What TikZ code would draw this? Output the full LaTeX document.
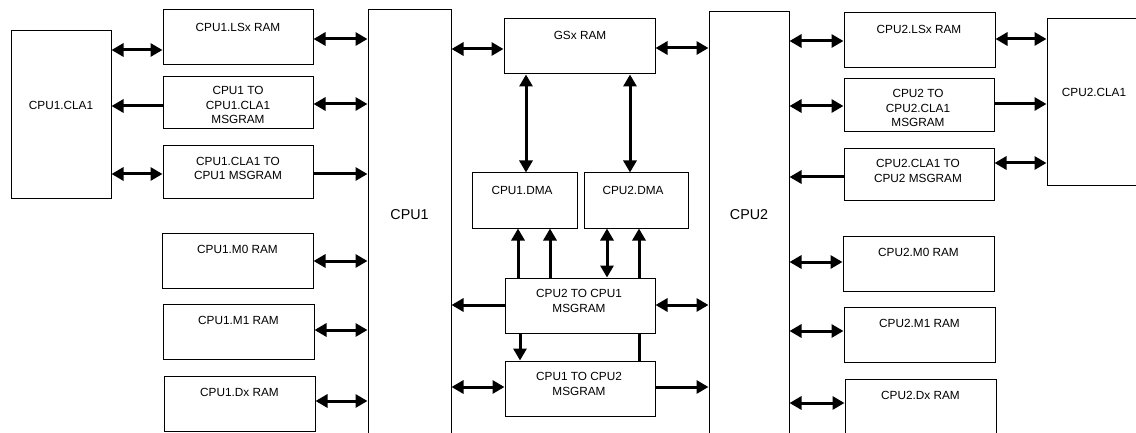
\documentclass[tikz,border=0pt]{standalone}
\usepackage{fontspec}
\setmainfont{Liberation Sans}
\usetikzlibrary{arrows.meta}
\tikzset{
  bx/.style={draw=black, line width=1pt, inner sep=0pt, fill=none},
  lbl/.style={inner sep=0pt, align=center, font=\fontsize{11.8}{14.2}\selectfont},
  big/.style={inner sep=0pt, font=\fontsize{14.3}{16}\selectfont},
  conn/.style={line width=3pt},
  tip/.style={-{Triangle[length=12pt,width=13pt]}},
  tips/.style={{Triangle[length=12pt,width=13pt]}-{Triangle[length=12pt,width=13pt]}},
}
\begin{document}
\begin{tikzpicture}[x=1pt,y=-1pt]
\useasboundingbox (0,0) rectangle (1136,433);
\clip (0,0) rectangle (1136,433);
\fill[white] (0,0) rectangle (1136,433);
% boxes
\node[bx, minimum width=100pt, minimum height=168pt] (cla1) at (61,115) {};
\node[bx, minimum width=150pt, minimum height=55pt] (lsx1) at (238,37.5) {};
\node[bx, minimum width=150pt, minimum height=52pt] (m1cla) at (238,103) {};
\node[bx, minimum width=150pt, minimum height=53pt] (cla1m) at (238,172.5) {};
\node[bx, minimum width=151pt, minimum height=55pt] (mzero1) at (237.5,260.5) {};
\node[bx, minimum width=151pt, minimum height=55pt] (mone1) at (238.5,331.5) {};
\node[bx, minimum width=151pt, minimum height=55pt] (dx1) at (239.5,403.5) {};
\node[bx, minimum width=83pt, minimum height=440pt] (cpu1) at (409.5,230) {};
\node[bx, minimum width=151pt, minimum height=55pt] (gsx) at (579.5,46.5) {};
\node[bx, minimum width=105pt, minimum height=55pt] (dma1) at (524.5,200.5) {};
\node[bx, minimum width=104pt, minimum height=55pt] (dma2) at (636,200.5) {};
\node[bx, minimum width=150pt, minimum height=55pt] (ctwoone) at (580,305.5) {};
\node[bx, minimum width=150pt, minimum height=55pt] (conetwo) at (580,388.5) {};
\node[bx, minimum width=80pt, minimum height=438pt] (cpu2) at (749,231) {};
\node[bx, minimum width=151pt, minimum height=55pt] (lsx2) at (919.5,40.5) {};
\node[bx, minimum width=150pt, minimum height=53pt] (m2cla) at (919,105.5) {};
\node[bx, minimum width=150pt, minimum height=52pt] (cla2m) at (919,175) {};
\node[bx, minimum width=151pt, minimum height=55pt] (mzero2) at (918.5,263.5) {};
\node[bx, minimum width=151pt, minimum height=55pt] (mone2) at (919.5,334.5) {};
\node[bx, minimum width=151pt, minimum height=55pt] (dx2) at (920.5,406.5) {};
\node[bx, minimum width=93pt, minimum height=167pt] (cla2) at (1093.5,102.5) {};
% labels
\node[lbl] (tcla1) at (61,105) {CPU1.CLA1};
\node[lbl] (tlsx1) at (238,27.5) {CPU1.LSx RAM};
\node[lbl] (tm1cla) at (238,105) {CPU1 TO\\CPU1.CLA1\\MSGRAM};
\node[lbl] (tcla1m) at (238,168.5) {CPU1.CLA1 TO\\CPU1 MSGRAM};
\node[lbl] (tmzero1) at (237.5,249) {CPU1.M0 RAM};
\node[lbl] (tmone1) at (238.5,320) {CPU1.M1 RAM};
\node[lbl] (tdx1) at (239.5,392) {CPU1.Dx RAM};
\node[big] (tcpu1) at (409.5,215) {CPU1};
\node[lbl] (tgsx) at (580,35.5) {GSx RAM};
\node[lbl] (tdma1) at (522,190) {CPU1.DMA};
\node[lbl] (tdma2) at (633,190) {CPU2.DMA};
\node[lbl] (tctwoone) at (579,301) {CPU2 TO CPU1\\MSGRAM};
\node[lbl] (tconetwo) at (579,384) {CPU1 TO CPU2\\MSGRAM};
\node[big] (tcpu2) at (749,215) {CPU2};
\node[lbl] (tlsx2) at (919,29) {CPU2.LSx RAM};
\node[lbl] (tm2cla) at (918,108) {CPU2 TO\\CPU2.CLA1\\MSGRAM};
\node[lbl] (tcla2m) at (918,171) {CPU2.CLA1 TO\\CPU2 MSGRAM};
\node[lbl] (tmzero2) at (918.5,252) {CPU2.M0 RAM};
\node[lbl] (tmone2) at (919.5,323) {CPU2.M1 RAM};
\node[lbl] (tdx2) at (920.5,395) {CPU2.Dx RAM};
\node[lbl] (tcla2) at (1094,92) {CPU2.CLA1};
% connectors, left side
\draw[conn,tips] (cla1.east |- 0,50) -- (lsx1.west |- 0,50);
\draw[conn,tips] (lsx1.east |- 0,39) -- (cpu1.west |- 0,39);
\draw[conn,tip] (m1cla.west |- 0,106) -- (cla1.east |- 0,106);
\draw[conn,tips] (m1cla.east |- 0,104) -- (cpu1.west |- 0,104);
\draw[conn,tips] (cla1.east |- 0,174) -- (cla1m.west |- 0,174);
\draw[conn,tip] (cla1m.east |- 0,174) -- (cpu1.west |- 0,174);
\draw[conn,tips] (mzero1.east |- 0,261) -- (cpu1.west |- 0,261);
\draw[conn,tips] (mone1.east |- 0,330) -- (cpu1.west |- 0,330);
\draw[conn,tips] (dx1.east |- 0,401) -- (cpu1.west |- 0,401);
% centre
\draw[conn,tips] (cpu1.east |- 0,49) -- (gsx.west |- 0,49);
\draw[conn,tips] (gsx.east |- 0,48) -- (cpu2.west |- 0,48);
\draw[conn,tips] (gsx.south -| 526,0) -- (dma1.north -| 526,0);
\draw[conn,tips] (gsx.south -| 630,0) -- (dma2.north -| 630,0);
\draw[conn,tip] (ctwoone.north -| 518,0) -- (dma1.south -| 518,0);
\draw[conn,tip] (ctwoone.north -| 550,0) -- (dma1.south -| 550,0);
\draw[conn,tips] (ctwoone.north -| 607,0) -- (dma2.south -| 607,0);
\draw[conn,tip] (ctwoone.north -| 639,0) -- (dma2.south -| 639,0);
\draw[conn,tip] (ctwoone.west |- 0,305) -- (cpu1.east |- 0,305);
\draw[conn,tips] (ctwoone.east |- 0,305) -- (cpu2.west |- 0,305);
\draw[conn,tip] (ctwoone.south -| 520,0) -- (conetwo.north -| 520,0);
\draw[conn] (conetwo.north -| 639,0) -- (ctwoone.south -| 639,0);
\draw[conn,tips] (cpu1.east |- 0,387) -- (conetwo.west |- 0,387);
\draw[conn,tip] (conetwo.east |- 0,387) -- (cpu2.west |- 0,387);
% right side
\draw[conn,tips] (cpu2.east |- 0,41) -- (lsx2.west |- 0,41);
\draw[conn,tips] (lsx2.east |- 0,39) -- (cla2.west |- 0,39);
\draw[conn,tips] (cpu2.east |- 0,106) -- (m2cla.west |- 0,106);
\draw[conn,tip] (m2cla.east |- 0,104) -- (cla2.west |- 0,104);
\draw[conn,tip] (cla2m.west |- 0,177) -- (cpu2.east |- 0,177);
\draw[conn,tips] (cla2m.east |- 0,163) -- (cla2.west |- 0,163);
\draw[conn,tips] (cpu2.east |- 0,262) -- (mzero2.west |- 0,262);
\draw[conn,tips] (cpu2.east |- 0,331) -- (mone2.west |- 0,331);
\draw[conn,tips] (cpu2.east |- 0,403) -- (dx2.west |- 0,403);
\end{tikzpicture}
\end{document}
